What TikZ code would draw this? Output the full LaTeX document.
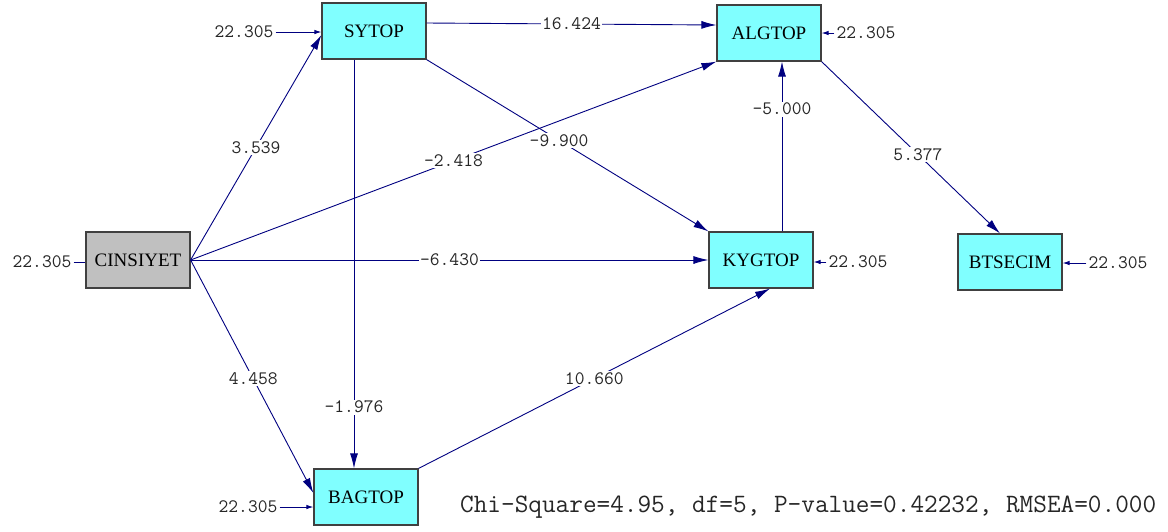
\documentclass[tikz,border=0pt]{standalone}
\usepackage{fontspec}
\setmainfont{Liberation Serif}
\usetikzlibrary{arrows.meta}
\definecolor{pathblue}{RGB}{0,0,128}
\definecolor{boxcyan}{RGB}{128,255,255}
\definecolor{boxgray}{RGB}{192,192,192}
\begin{document}
\begin{tikzpicture}[x=1pt,y=-1pt,
    var/.style={draw=black!75,line width=1.2pt,fill=boxcyan,minimum width=104pt,minimum height=56pt,
      font=\fontsize{19}{21}\selectfont},
    exo/.style={var,fill=boxgray},
    path/.style={draw=pathblue,line width=0.9pt,-{Latex[length=15pt,width=8pt]}},
    errpath/.style={draw=pathblue,line width=0.9pt,-{Latex[length=7pt,width=4.5pt]}},
    coef/.style={fill=white,inner sep=1.5pt,text=black!85,font=\ttfamily\fontsize{19}{21}\selectfont},
    err/.style={inner sep=2pt,text=black!85,font=\ttfamily\fontsize{19}{21}\selectfont}]
  \useasboundingbox (0,0) rectangle (1168,531);

  \node[var] (SY) at (374,31) {SYTOP};
  \node[var] (AL) at (769,33) {ALGTOP};
  \node[exo] (CI) at (138,260) {CINSIYET};
  \node[var] (KY) at (761,260) {KYGTOP};
  \node[var] (BT) at (1010,262) {BTSECIM};
  \node[var] (BA) at (366,497) {BAGTOP};

  \node[err] (eSY) at (244,32) {22.305};
  \node[err] (eCI) at (42,262) {22.305};
  \node[err] (eAL) at (866,33) {22.305};
  \node[err] (eKY) at (858,262) {22.305};
  \node[err] (eBT) at (1118,263) {22.305};
  \node[err] (eBA) at (248,507) {22.305};

  \draw[errpath] (eSY) -- (eSY -| SY.west);
  \draw[draw=pathblue,line width=0.9pt] (eCI) -- (eCI -| CI.west);
  \draw[errpath] (eAL) -- (eAL -| AL.east);
  \draw[errpath] (eKY) -- (eKY -| KY.east);
  \draw[errpath] (eBT) -- (eBT -| BT.east);
  \draw[errpath] (eBA) -- (eBA -| BA.west);

  \draw[path] (CI.east) -- node[coef,pos=0.5]{3.539} ([yshift=-4]SY.west);
  \draw[path] (CI.east) -- node[coef,pos=0.5]{-2.418} (AL.south west);
  \draw[path] (CI.east) -- node[coef,pos=0.5]{-6.430} (KY.west);
  \draw[path] (CI.east) -- node[coef,pos=0.51]{4.458} ([yshift=4]BA.west);
  \draw[path] ([yshift=8]SY.east) -- node[coef,pos=0.5]{16.424} ([yshift=8]AL.west);
  \draw[path] (SY.south east) -- node[coef,pos=0.47]{-9.900} (KY.north west);
  \draw[path] ([xshift=-20]SY.south) -- node[coef,pos=0.85]{-1.976} ([xshift=-12]BA.north);
  \draw[path] ([xshift=21]KY.north) -- node[coef,pos=0.72]{-5.000} ([xshift=13]AL.south);
  \draw[path] (AL.south east) -- node[coef,pos=0.54]{5.377} ([xshift=-10]BT.north);
  \draw[path] (BA.north east) -- node[coef,pos=0.5]{10.660} ([xshift=9]KY.south);

  \node[anchor=west,inner sep=0pt,text=black!85,font=\ttfamily\fontsize{26.5}{28}\selectfont] (fit) at (460,507)
    {Chi-Square=4.95, df=5, P-value=0.42232, RMSEA=0.000};
\end{tikzpicture}
\end{document}
